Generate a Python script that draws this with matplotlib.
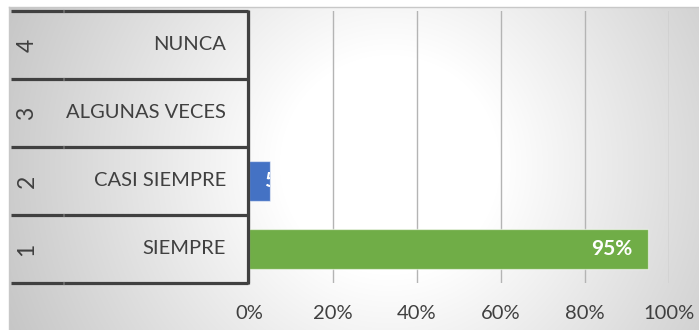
import numpy as np
from matplotlib import pyplot as plt

W, H = 699, 330
FONT = "Lato"
FS = 14.5

categories = ["SIEMPRE", "CASI SIEMPRE", "ALGUNAS VECES", "NUNCA"]
codes = ["1", "2", "3", "4"]
percentages = [95, 5, 0, 0]
bar_colors = ["#70AD47", "#4472C4", "#A5A5A5", "#FFC000"]
xticks = [0, 20, 40, 60, 80, 100]
xtick_labels = ["0%", "20%", "40%", "60%", "80%", "100%"]

# layout in pixels (left, top, right, bottom)
CHART = (9, 7, W, H)
PLOT = (249, 11, 669, 283)


def fig_rect(left, top, right, bottom):
    return [left / W, 1 - bottom / H, (right - left) / W, (bottom - top) / H]


fig = plt.figure(figsize=(W / 100, H / 100), dpi=100)

# radial grey-to-white fill of the chart area
bg = fig.add_axes([0, 0, 1, 1])
bg.set_xlim(0, W)
bg.set_ylim(H, 0)
bg.axis("off")
xx, yy = np.meshgrid(np.arange(CHART[0], CHART[2]) + 0.5, np.arange(CHART[1], CHART[3]) + 0.5)
r = np.hypot(xx - 390, yy - 165)
t = np.clip((r - 110) / 300, 0, 1)
shade = 1.0 - 0.22 * t
bg.imshow(np.dstack([shade] * 3), extent=(CHART[0], CHART[2], CHART[3], CHART[1]),
          interpolation="bilinear", aspect="auto")
bg.plot([CHART[0], W], [CHART[1], CHART[1]], color="#c8c8c8", lw=1)
bg.plot([CHART[0], CHART[0]], [CHART[1], H], color="#c8c8c8", lw=1)

# bars
ax = fig.add_axes(fig_rect(*PLOT))
ax.patch.set_alpha(0)
ypos = np.arange(len(categories))
bars = ax.barh(ypos, percentages, height=0.59, color=bar_colors,
               edgecolor=(1, 1, 1, 0.55), linewidth=0.9, zorder=3)
ax.set_xlim(0, 100)
ax.set_ylim(-0.5, len(categories) - 0.5)
ax.set_xticks(xticks)
ax.set_xticklabels(xtick_labels, fontfamily=FONT, fontsize=FS, color="#404040")
ax.set_yticks([])
ax.tick_params(axis="x", length=0, pad=16)
ax.grid(axis="x", color="#b4b4b4", linewidth=1.0, zorder=1)
for spine in ax.spines.values():
    spine.set_visible(False)

px_per_unit = (PLOT[2] - PLOT[0]) / 100
for bar, value in zip(bars, percentages):
    if value <= 0:
        continue
    yc = bar.get_y() + bar.get_height() / 2
    if value * px_per_unit > 50:
        ax.annotate(f"{value}%", (value, yc), xytext=(-11, 0), textcoords="offset points",
                    ha="right", va="center", color="white", fontweight="bold",
                    fontfamily=FONT, fontsize=FS + 0.5, zorder=4)
    else:
        # label does not fit: it starts just inside the bar and gets cut at its edge
        txt = ax.annotate(f"{value}%", (value, yc), xytext=(-4, 0), textcoords="offset points",
                          ha="left", va="center", color="white", fontweight="bold",
                          fontfamily=FONT, fontsize=FS + 0.5, zorder=4)
        txt.set_clip_path(bar)

# category table on the left
tab = fig.add_axes(fig_rect(CHART[0], PLOT[1], PLOT[0], PLOT[3]))
tab.patch.set_alpha(0)
tab.set_xlim(CHART[0], PLOT[0])
tab.set_ylim(-0.5, len(categories) - 0.5)
tab.axis("off")
for k in range(len(categories) + 1):
    y = k - 0.5
    tab.plot([11, 247.5], [y, y], color="#404040", lw=2.3, solid_capstyle="butt", clip_on=False)
    tab.plot([62.5, 63.5], [y, y], color="#8c8c8c", lw=2.3, solid_capstyle="butt", clip_on=False)
tab.plot([247.5, 247.5], [-0.5 - 0.02, len(categories) - 0.5 + 0.02], color="#404040", lw=2.3,
         solid_capstyle="butt", clip_on=False)
for y, code, name in zip(ypos, codes, categories):
    tab.text(27, y, code, rotation=90, ha="center", va="center",
             fontfamily=FONT, fontsize=FS + 2, color="#404040")
    tab.text(226, y, name, ha="right", va="center",
             fontfamily=FONT, fontsize=FS, color="#404040")

fig.savefig("out.png", dpi=100)
